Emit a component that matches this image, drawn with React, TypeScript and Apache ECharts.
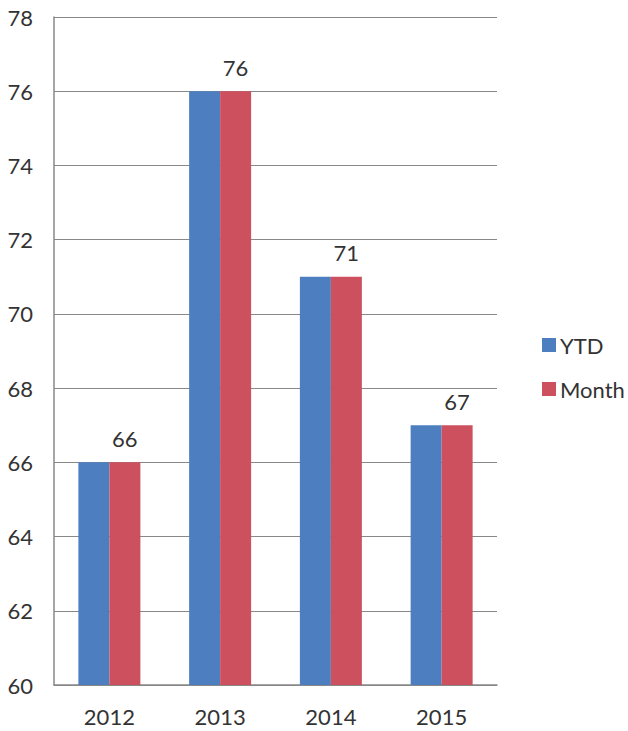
import React, { useEffect, useRef } from "react";
import * as echarts from "echarts";

const categories = ["2012", "2013", "2014", "2015"];
const ytdValues = [66, 76, 71, 67];
const monthValues = [66, 76, 71, 67];
const seriesNames = ["YTD", "Month"];

const FONT = "Lato, 'Open Sans', sans-serif";

export default function App() {
  const ref = useRef<HTMLDivElement>(null);
  useEffect(() => {
    if (!ref.current) return;
    const chart = echarts.init(ref.current, undefined, { renderer: "svg" });
    chart.setOption({
      animation: false,
      backgroundColor: "#ffffff",
      textStyle: { fontFamily: FONT },
      grid: { left: 54, right: 131, top: 17, bottom: 46, containLabel: false },
      legend: {
        orient: "vertical",
        left: 537,
        top: 329,
        itemWidth: 14,
        itemHeight: 14,
        itemGap: 22,
        icon: "rect",
        textStyle: { fontSize: 22, color: "#333", fontFamily: FONT, padding: [0, 0, 0, -1] },
        data: seriesNames,
      },
      xAxis: {
        type: "category",
        data: categories,
        axisLine: { show: true, lineStyle: { color: "#888", width: 1.5 } },
        axisTick: { show: false },
        axisLabel: { fontSize: 22, color: "#333", margin: 20, fontFamily: FONT },
      },
      yAxis: {
        type: "value",
        min: 60,
        max: 78,
        interval: 2,
        axisLine: { show: true, lineStyle: { color: "#888", width: 1.5 } },
        axisTick: { show: false },
        axisLabel: { fontSize: 22, color: "#333", margin: 21, fontFamily: FONT },
        splitLine: { show: true, lineStyle: { color: "#888", width: 1 } },
      },
      series: [
        {
          name: seriesNames[0],
          type: "bar",
          data: ytdValues,
          barWidth: 31,
          barGap: "0%",
          itemStyle: { color: "#4d7fc0" },
        },
        {
          name: seriesNames[1],
          type: "bar",
          data: monthValues,
          barWidth: 31,
          barGap: "0%",
          itemStyle: { color: "#cd505f" },
          label: {
            show: true,
            position: "top",
            distance: 13,
            fontSize: 22,
            color: "#333",
            fontFamily: FONT,
          },
        },
      ],
    });
    return () => chart.dispose();
  }, []);
  return <div ref={ref} style={{ width: 628, height: 731, position: "absolute", left: 0, top: 0 }} />;
}
